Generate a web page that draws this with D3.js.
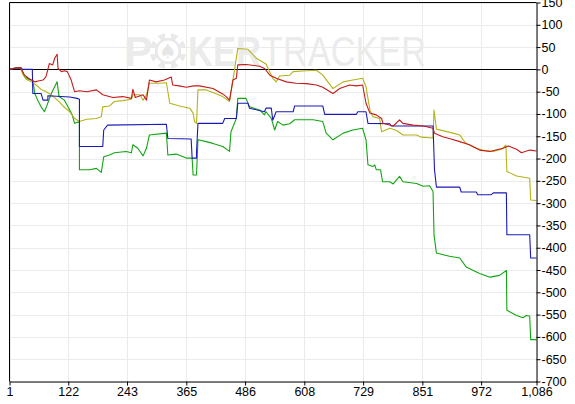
<!DOCTYPE html>
<html><head><meta charset="utf-8">
<script src="https://cdn.jsdelivr.net/npm/d3@7"></script>
<style>html,body{margin:0;padding:0;background:#fff;}svg{display:block;}</style>
</head><body><svg id="c" width="575" height="404"></svg>
<script>
const xTicks = [1,122,243,365,486,608,729,851,972,1086];
const yTicks = d3.range(-700,151,50);
const redSeries = [[1,0],[14,3],[24,4],[28,-5],[32,-13],[40,-20],[46,-24],[53,-28],[60,-26],[70,-24],[75,-18],[77,-13],[83,13],[90,10],[94,25],[99,34],[101,2],[108,-5],[114,-3],[120,-5],[128,-24],[135,-50],[145,-48],[160,-50],[180,-46],[193,-57],[214,-63],[234,-61],[252,-65],[255,-45],[260,-63],[276,-57],[283,-69],[289,-24],[303,-28],[320,-24],[334,-17],[337,-35],[350,-37],[365,-40],[380,-37],[392,-37],[420,-43],[440,-55],[447,-61],[454,-69],[461,-24],[468,-20],[471,10],[488,11],[516,7],[526,2],[537,-13],[550,-20],[571,-28],[591,-31],[612,-32],[633,-35],[646,-40],[667,-54],[681,-43],[701,-35],[715,-37],[728,-35],[735,-76],[743,-98],[756,-102],[767,-110],[770,-121],[791,-127],[804,-113],[811,-121],[832,-125],[853,-127],[873,-132],[876,-143],[893,-151],[910,-156],[928,-162],[948,-169],[969,-181],[990,-184],[1017,-177],[1028,-172],[1045,-179],[1055,-187],[1072,-181],[1086,-183]];
const oliveSeries = [[1,0],[14,3],[24,4],[28,-10],[35,-22],[46,-28],[56,-35],[66,-45],[77,-50],[90,-60],[101,-70],[114,-85],[125,-95],[135,-110],[145,-117],[160,-112],[180,-110],[190,-106],[193,-84],[207,-82],[217,-72],[234,-70],[252,-67],[255,-57],[270,-57],[276,-69],[283,-57],[289,-31],[310,-31],[324,-30],[331,-76],[351,-82],[372,-87],[379,-98],[382,-117],[386,-121],[389,-46],[406,-46],[420,-52],[440,-61],[454,-72],[461,-24],[471,47],[492,45],[509,25],[529,12],[543,-20],[550,-28],[557,-15],[578,-13],[585,-5],[612,-3],[633,-2],[646,-13],[667,-43],[688,-28],[708,-24],[728,-20],[735,-39],[743,-91],[749,-106],[763,-110],[767,-140],[784,-132],[798,-137],[811,-147],[839,-147],[849,-152],[873,-154],[875,-91],[880,-134],[914,-143],[928,-147],[935,-158],[941,-166],[962,-177],[975,-181],[997,-184],[1014,-179],[1023,-170],[1025,-229],[1045,-239],[1072,-244],[1074,-293],[1086,-294]];
const blueSeries = [[1,0],[14,3],[24,4],[28,0],[48,0],[49,-54],[66,-54],[70,-69],[80,-69],[80,-59],[125,-62],[140,-65],[145,-67],[145,-173],[193,-173],[195,-136],[203,-125],[324,-123],[327,-155],[375,-156],[377,-199],[386,-199],[386,-188],[389,-121],[440,-121],[444,-110],[468,-110],[471,-76],[492,-76],[495,-87],[526,-95],[529,-87],[540,-87],[543,-114],[550,-95],[585,-95],[588,-82],[646,-82],[650,-101],[715,-101],[718,-95],[735,-95],[739,-121],[784,-122],[787,-127],[873,-127],[876,-225],[880,-264],[928,-264],[931,-275],[962,-275],[965,-281],[993,-281],[997,-277],[1024,-277],[1025,-371],[1072,-371],[1074,-423],[1086,-423]];
const greenSeries = [[1,0],[14,3],[24,4],[32,-16],[40,-22],[46,-24],[49,-24],[53,-54],[59,-69],[66,-84],[73,-95],[77,-84],[87,-54],[94,-39],[99,-28],[103,-61],[114,-69],[125,-91],[130,-102],[135,-121],[145,-117],[145,-225],[166,-225],[180,-222],[190,-231],[195,-196],[207,-192],[217,-187],[241,-184],[252,-187],[255,-169],[265,-177],[276,-194],[283,-177],[289,-147],[324,-143],[327,-192],[344,-190],[365,-199],[377,-199],[379,-237],[386,-237],[389,-158],[406,-162],[420,-166],[440,-173],[454,-184],[457,-140],[468,-110],[471,-65],[488,-65],[495,-84],[516,-91],[526,-102],[529,-95],[540,-110],[547,-136],[553,-117],[564,-125],[578,-122],[588,-113],[626,-113],[646,-117],[653,-143],[667,-158],[688,-143],[708,-136],[728,-132],[735,-158],[739,-214],[749,-218],[753,-214],[756,-225],[765,-225],[769,-252],[784,-252],[791,-257],[804,-240],[811,-252],[839,-256],[853,-262],[866,-261],[873,-274],[875,-371],[880,-412],[907,-419],[928,-423],[941,-443],[969,-458],[990,-466],[1010,-462],[1024,-451],[1025,-540],[1045,-552],[1058,-557],[1065,-552],[1072,-553],[1074,-606],[1086,-606]];
const seriesList = [
  {data: greenSeries, color: "#11a611"},
  {data: oliveSeries, color: "#b3b31a"},
  {data: blueSeries, color: "#1a1ab8"},
  {data: redSeries, color: "#c41a1a"}
];

const svg = d3.select("#c");
const L = 9.5, R = 536.5, T = 2.5, B = 381.5;
const x = d3.scaleLinear().domain([1,1086]).range([L,R]);
const y = d3.scaleLinear().domain([-700,150]).range([B,T]);
const font = "'Liberation Sans', Arial, sans-serif";

// grid
const g = svg.append("g");
g.selectAll(".gx").data(xTicks).join("line")
  .attr("x1",d=>Math.round(x(d))+0.5).attr("x2",d=>Math.round(x(d))+0.5)
  .attr("y1",T).attr("y2",B).attr("stroke","#ebebeb");
g.selectAll(".gy").data(yTicks).join("line")
  .attr("x1",L).attr("x2",R)
  .attr("y1",d=>Math.round(y(d))+0.5).attr("y2",d=>Math.round(y(d))+0.5).attr("stroke","#ebebeb");

// watermark
const wm = svg.append("g").attr("fill","#ebebeb");
wm.append("text").attr("x",124).attr("y",66).attr("font-family",font).attr("font-weight","bold").attr("font-size",43).text("P");
const cx = 168, cy = 51;
wm.append("circle").attr("cx",cx).attr("cy",cy).attr("r",18).attr("fill","#e9e9e9");
for (let i=0;i<8;i++){
  const a = i*Math.PI/4;
  wm.append("rect").attr("x",-3).attr("y",-18).attr("width",6).attr("height",5).attr("fill","#fff")
    .attr("transform",`translate(${cx},${cy}) rotate(${a*180/Math.PI})`);
}
wm.append("circle").attr("cx",cx).attr("cy",cy).attr("r",10.5).attr("fill","#fff");
wm.append("text").attr("x",cx).attr("y",cy+7).attr("text-anchor","middle").attr("font-family","DejaVu Sans").attr("font-size",20).attr("fill","#e6e6e6").text("♠");
wm.append("text").attr("x",188).attr("y",66).attr("font-family",font).attr("font-weight","bold").attr("font-size",43)
  .attr("textLength",73).attr("lengthAdjust","spacingAndGlyphs").text("KER");
wm.append("text").attr("x",262).attr("y",66).attr("font-family",font).attr("font-size",43)
  .attr("textLength",164).attr("lengthAdjust","spacingAndGlyphs").text("TRACKER");

// zero line
svg.append("line").attr("x1",L).attr("x2",R).attr("y1",Math.round(y(0))+0.5).attr("y2",Math.round(y(0))+0.5).attr("stroke","#000");

// series
const line = d3.line().x(d=>x(d[0])).y(d=>y(d[1]));
seriesList.forEach(s=>{
  svg.append("path").attr("d",line(s.data)).attr("fill","none").attr("stroke",s.color).attr("stroke-width",1.1).attr("stroke-linejoin","round");
});

// border
svg.append("line").attr("x1",L).attr("x2",L).attr("y1",T).attr("y2",B).attr("stroke","#000");
svg.append("line").attr("x1",L).attr("x2",R).attr("y1",T).attr("y2",T).attr("stroke","#000");

// axes
const xa = svg.append("g").attr("transform",`translate(0,${B})`)
  .call(d3.axisBottom(x).tickValues(xTicks).tickFormat(d3.format(",")).tickSize(4).tickPadding(2).tickSizeOuter(0));
const ya = svg.append("g").attr("transform",`translate(${R},0)`)
  .call(d3.axisRight(y).tickValues(yTicks).tickFormat(d=>d).tickSize(4).tickPadding(1).tickSizeOuter(0));
[xa,ya].forEach(a=>{
  a.select(".domain").attr("stroke","#000");
  a.selectAll(".tick line").attr("stroke","#000");
  a.selectAll("text").attr("font-family",font).attr("font-size",12.5).attr("fill","#000");
});
</script></body></html>
